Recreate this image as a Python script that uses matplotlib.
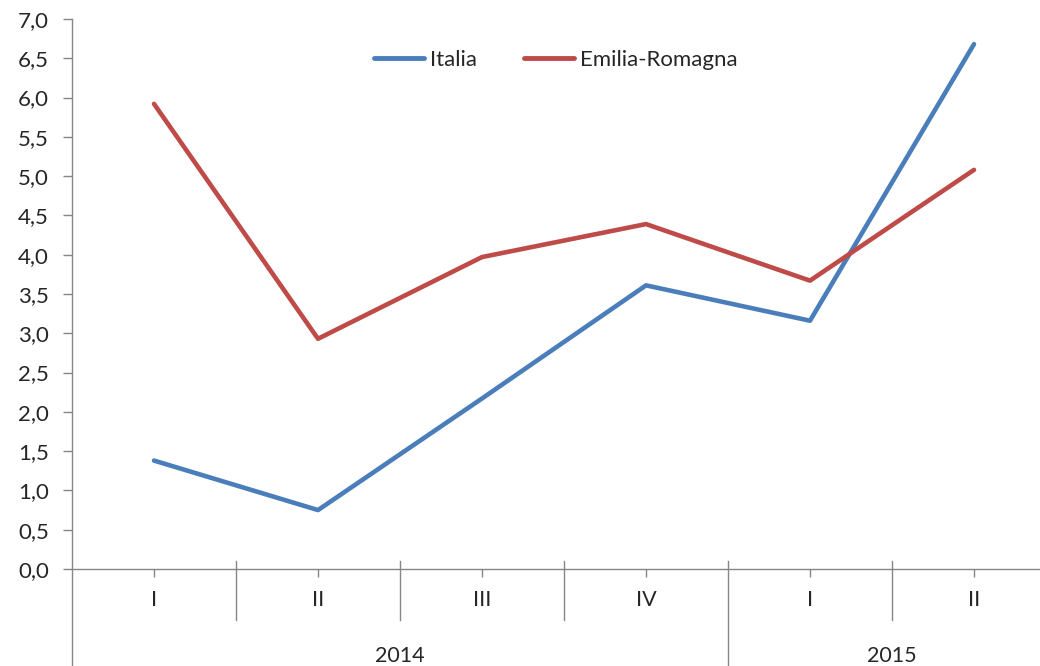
import matplotlib.pyplot as plt
from matplotlib.ticker import FuncFormatter
import matplotlib.transforms as mtransforms

# data
quarters = ["I", "II", "III", "IV", "I", "II"]
years = ["2014", "2015"]
year_spans = [(0, 3), (4, 5)]   # first and last quarter index of each year
italia = [1.38, 0.75, 2.17, 3.61, 3.16, 6.68]
emilia = [5.92, 2.93, 3.97, 4.39, 3.67, 5.08]

BLUE = "#4a7ebb"
RED = "#be4b48"
GREY = "#868686"
TEXT = "#262626"

plt.rcParams["font.family"] = ["Lato", "DejaVu Sans"]

W, H = 1040, 666
fig = plt.figure(figsize=(W / 100, H / 100), dpi=100)
# plot area: x from 72 px to 1056 px (runs past the right edge), y from 19 to 569 px
ax = fig.add_axes([72 / W, (H - 569) / H, 984 / W, 550 / H])

x = list(range(len(quarters)))
ax.plot(x, italia, color=BLUE, lw=3.3, label="Italia", solid_capstyle="round",
        solid_joinstyle="round")
ax.plot(x, emilia, color=RED, lw=3.3, label="Emilia-Romagna", solid_capstyle="round",
        solid_joinstyle="round")

ax.set_xlim(-0.5, len(quarters) - 0.5)
ax.set_ylim(0, 7)
ax.set_yticks([i * 0.5 for i in range(15)])
ax.yaxis.set_major_formatter(FuncFormatter(lambda v, p: f"{v:.1f}".replace(".", ",")))
ax.tick_params(axis="y", length=6.5, width=1, color=GREY, labelsize=16,
               labelcolor=TEXT, pad=10)

ax.set_xticks(x)
ax.set_xticklabels([])
ax.tick_params(axis="x", length=6, width=1, color=GREY, direction="out")

for s in ["top", "right"]:
    ax.spines[s].set_visible(False)
ax.spines["left"].set_visible(False)
ax.spines["bottom"].set_color(GREY)
ax.spines["bottom"].set_linewidth(1)

trans = mtransforms.blended_transform_factory(ax.transData, ax.transAxes)

# left axis line runs down through the category area
ax.plot([-0.5, -0.5], [1.0, -0.18], transform=trans, color=GREY, lw=1, clip_on=False)

# quarter labels
for i, q in enumerate(quarters):
    ax.text(i, -0.057, q, transform=trans, ha="center", va="center",
            fontsize=15.5, color=TEXT, clip_on=False)

# separators between quarters and between years
for i in range(len(quarters) - 1):
    b = i + 0.5
    is_year_break = any(b == end + 0.5 for _, end in year_spans[:-1])
    low = -0.18 if is_year_break else -0.093
    ax.plot([b, b], [0.015, low], transform=trans, color=GREY, lw=1, clip_on=False)

# year labels
for yr, (a, b) in zip(years, year_spans):
    ax.text((a + b) / 2, -0.158, yr, transform=trans, ha="center", va="center",
            fontsize=15.5, color=TEXT, clip_on=False)

leg = ax.legend(loc="center", bbox_to_anchor=(0.492, 0.925), ncol=2, frameon=False,
                fontsize=16, handlelength=2.25, handletextpad=0.27, columnspacing=2.1,
                borderpad=0, borderaxespad=0)
for line in leg.get_lines():
    line.set_linewidth(3.5)
for t in leg.get_texts():
    t.set_color(TEXT)

fig.savefig("out.png", dpi=100)
